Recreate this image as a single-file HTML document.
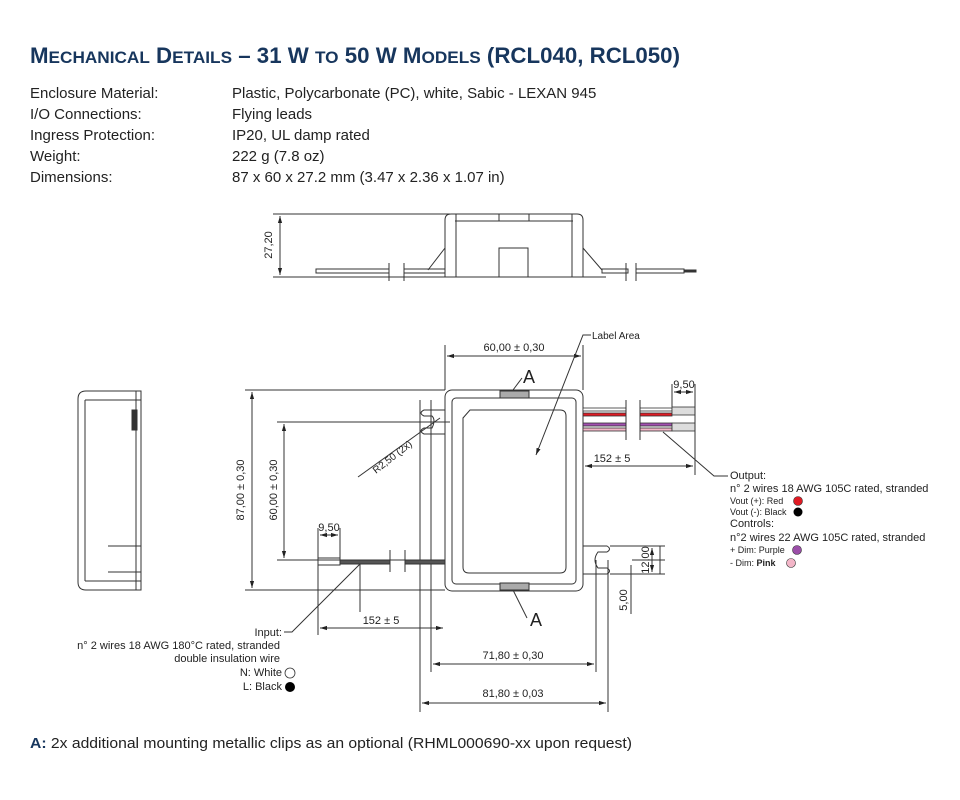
<!DOCTYPE html>
<html><head><meta charset="utf-8"><style>
html,body{margin:0;padding:0;background:#fff;width:960px;height:800px;overflow:hidden}
svg{display:block}
</style></head><body>
<svg width="960" height="800" viewBox="0 0 960 800" xmlns="http://www.w3.org/2000/svg" font-family="Liberation Sans, sans-serif">
<defs>
<marker id="a" viewBox="0 0 10 10" refX="10" refY="5" markerWidth="7" markerHeight="7" orient="auto-start-reverse"><path d="M0,2 L10,5 L0,8 z" fill="#222"/></marker>
</defs>
<text x="30" y="63" fill="#17365d" font-weight="bold" font-size="22" textLength="650" lengthAdjust="spacingAndGlyphs">M<tspan font-size="17">ECHANICAL</tspan> D<tspan font-size="17">ETAILS</tspan> – 31 W <tspan font-size="17">TO</tspan> 50 W M<tspan font-size="17">ODELS</tspan> (RCL040, RCL050)</text>
<g font-size="15" fill="#222">
<text x="30" y="98">Enclosure Material:</text><text x="232" y="98">Plastic, Polycarbonate (PC), white, Sabic - LEXAN 945</text>
<text x="30" y="119">I/O Connections:</text><text x="232" y="119">Flying leads</text>
<text x="30" y="140">Ingress Protection:</text><text x="232" y="140">IP20, UL damp rated</text>
<text x="30" y="161">Weight:</text><text x="232" y="161">222 g (7.8 oz)</text>
<text x="30" y="182">Dimensions:</text><text x="232" y="182">87 x 60 x 27.2 mm (3.47 x 2.36 x 1.07 in)</text>
</g>
<g stroke="#333" stroke-width="1" fill="none">
<line x1="273" y1="214" x2="450" y2="214"/>
<line x1="273" y1="277" x2="606" y2="277"/>
<line x1="280" y1="216" x2="280" y2="275" marker-start="url(#a)" marker-end="url(#a)"/>
<path d="M445,277 V220 Q445,214 451,214 H577 Q583,214 583,220 V277"/>
<line x1="455" y1="221" x2="573" y2="221"/>
<line x1="456" y1="214" x2="456" y2="277"/><line x1="572" y1="214" x2="572" y2="277"/>
<rect x="499" y="214" width="30" height="7"/>
<rect x="499" y="248" width="29" height="29"/>
<line x1="445" y1="248" x2="428" y2="270"/><line x1="583" y1="248" x2="602" y2="270"/>
<rect x="316" y="269" width="73" height="4"/><rect x="404" y="269" width="41" height="4"/>
<rect x="602" y="269" width="26" height="4"/><rect x="636" y="269" width="48" height="4"/><rect x="684" y="270" width="12" height="2" fill="#333"/>
<line x1="389" y1="263" x2="389" y2="281"/><line x1="404" y1="263" x2="404" y2="281"/>
<line x1="626" y1="263" x2="626" y2="281"/><line x1="636" y1="263" x2="636" y2="281"/>
<path d="M141,391 H86 Q78,391 78,399 V582 Q78,590 86,590 H141 Z"/>
<line x1="85" y1="400" x2="141" y2="400"/><line x1="85" y1="581" x2="141" y2="581"/>
<line x1="85" y1="400" x2="85" y2="581"/><line x1="136" y1="391" x2="136" y2="590"/>
<rect x="132" y="410" width="5" height="20" fill="#333"/>
<line x1="108" y1="546" x2="141" y2="546"/><line x1="108" y1="572" x2="141" y2="572"/><rect x="136" y="546" width="5" height="26"/>
<rect x="445" y="390" width="138" height="201" rx="7"/>
<rect x="452" y="398" width="124" height="186" rx="4"/>
<path d="M470,410 H560 Q566,410 566,416 V567 Q566,573 560,573 H469 Q463,573 463,567 V418 Z"/>
<rect x="500" y="391" width="29" height="7" fill="#aaa"/>
<rect x="500" y="583" width="29" height="7" fill="#aaa"/>
<path d="M445,410 H424 Q418,413 424,416 H432 Q436,420 432,428 H424 Q418,431 424,434 H445"/>
<path d="M583,546 H607 Q612,549 607,552 H598 Q592,560 598,568 H607 Q612,571 607,574 H583"/>
<line x1="245" y1="390" x2="445" y2="390"/><line x1="245" y1="590" x2="445" y2="590"/>
<line x1="252" y1="392" x2="252" y2="588" marker-start="url(#a)" marker-end="url(#a)"/>
<line x1="277" y1="422" x2="450" y2="422"/><line x1="277" y1="560" x2="445" y2="560"/>
<line x1="284" y1="424" x2="284" y2="558" marker-start="url(#a)" marker-end="url(#a)"/>
<line x1="445" y1="345" x2="445" y2="390"/><line x1="583" y1="345" x2="583" y2="390"/>
<line x1="447" y1="356" x2="581" y2="356" marker-start="url(#a)" marker-end="url(#a)"/>
<line x1="358" y1="477" x2="440" y2="418"/>
</g>
<!-- right wires -->
<g stroke="#333" stroke-width="0.8">
<rect x="583" y="408" width="43" height="3" fill="#fff"/><rect x="640" y="408" width="32" height="3" fill="#fff"/>
<rect x="583" y="413" width="43" height="3" fill="#e01b24"/><rect x="640" y="413" width="32" height="3" fill="#e01b24"/>
<rect x="583" y="423" width="43" height="3" fill="#a24fb0"/><rect x="640" y="423" width="32" height="3" fill="#a24fb0"/>
<rect x="583" y="428" width="43" height="3" fill="#f3b6c8"/><rect x="640" y="428" width="32" height="3" fill="#f3b6c8"/>
<rect x="672" y="407" width="23" height="8" fill="#ddd"/><rect x="672" y="423" width="23" height="8" fill="#ddd"/>
</g>
<g stroke="#333" stroke-width="1" fill="none">
<line x1="626" y1="400" x2="626" y2="440"/><line x1="640" y1="400" x2="640" y2="440"/>
<line x1="672" y1="384" x2="672" y2="407"/><line x1="695" y1="384" x2="695" y2="475"/>
<line x1="674" y1="392" x2="693" y2="392" marker-start="url(#a)" marker-end="url(#a)"/>
<line x1="585" y1="466" x2="693" y2="466" marker-start="url(#a)" marker-end="url(#a)"/>
<polyline points="663,432 714,476 728,476"/>
<polyline points="536,455 583,335 591,335" marker-start="url(#a)"/>
<line x1="610" y1="546" x2="665" y2="546"/><line x1="610" y1="574" x2="665" y2="574"/>
<line x1="632" y1="560" x2="665" y2="560"/>
<line x1="660" y1="546" x2="660" y2="574"/>
<line x1="652" y1="548" x2="652" y2="572" marker-start="url(#a)" marker-end="url(#a)"/>
<line x1="631" y1="565" x2="631" y2="614"/>
<line x1="596" y1="560" x2="596" y2="672"/><line x1="608" y1="560" x2="608" y2="712"/>
<line x1="431" y1="400" x2="431" y2="672"/><line x1="420" y1="400" x2="420" y2="712"/>
<line x1="433" y1="664" x2="594" y2="664" marker-start="url(#a)" marker-end="url(#a)"/>
<line x1="422" y1="703" x2="606" y2="703" marker-start="url(#a)" marker-end="url(#a)"/>
<line x1="513" y1="590" x2="527" y2="618"/><line x1="513" y1="390" x2="522" y2="378"/>
<rect x="340" y="560" width="50" height="4" fill="#555"/><rect x="405" y="560" width="40" height="4" fill="#555"/>
<rect x="318" y="558" width="22" height="7"/>
<line x1="390" y1="550" x2="390" y2="572"/><line x1="405" y1="550" x2="405" y2="572"/>
<line x1="318" y1="528" x2="318" y2="635"/><line x1="340" y1="528" x2="340" y2="558"/>
<line x1="320" y1="535" x2="338" y2="535" marker-start="url(#a)" marker-end="url(#a)"/>
<line x1="320" y1="628" x2="443" y2="628" marker-start="url(#a)" marker-end="url(#a)"/>
<line x1="360" y1="564" x2="360" y2="612"/>
<polyline points="360,564 292,632 284,632"/>
</g>
<g font-size="11" fill="#222">
<text x="272" y="245" transform="rotate(-90 272 245)" text-anchor="middle">27,20</text>
<text x="244" y="490" transform="rotate(-90 244 490)" text-anchor="middle">87,00 ± 0,30</text>
<text x="277" y="490" transform="rotate(-90 277 490)" text-anchor="middle">60,00 ± 0,30</text>
<text x="376" y="474" transform="rotate(-38 376 474)" font-size="10">R2,50 (2x)</text>
<text x="514" y="351" text-anchor="middle">60,00 ± 0,30</text>
<text x="684" y="388" text-anchor="middle">9,50</text>
<text x="612" y="462" text-anchor="middle">152 ± 5</text>
<text x="329" y="531" text-anchor="middle">9,50</text>
<text x="381" y="624" text-anchor="middle">152 ± 5</text>
<text x="513" y="659" text-anchor="middle">71,80 ± 0,30</text>
<text x="513" y="697" text-anchor="middle">81,80 ± 0,03</text>
<text x="649" y="560" transform="rotate(-90 649 560)" text-anchor="middle">12,00</text>
<text x="627" y="600" transform="rotate(-90 627 600)" text-anchor="middle">5,00</text>
<text x="592" y="339" font-size="10">Label Area</text>
<text x="529" y="383" font-size="18" text-anchor="middle">A</text>
<text x="536" y="626" font-size="18" text-anchor="middle">A</text>
<text x="730" y="479">Output:</text>
<text x="730" y="492">n° 2 wires 18 AWG 105C rated, stranded</text>
<text x="730" y="504" font-size="9">Vout (+): Red</text>
<text x="730" y="515" font-size="9">Vout (-): Black</text>
<text x="730" y="527">Controls:</text>
<text x="730" y="541">n°2 wires 22 AWG 105C rated, stranded</text>
<text x="730" y="553" font-size="9">+ Dim: Purple</text>
<text x="730" y="566" font-size="9">- Dim: <tspan font-weight="bold">Pink</tspan></text>
<text x="282" y="636" text-anchor="end">Input:</text>
<text x="280" y="649" text-anchor="end">n° 2 wires 18 AWG 180°C rated, stranded</text>
<text x="280" y="662" text-anchor="end">double insulation wire</text>
<text x="282" y="676" text-anchor="end">N: White</text>
<text x="282" y="690" text-anchor="end">L: Black</text>
</g>
<circle cx="798" cy="501" r="4.5" fill="#e01b24" stroke="#333" stroke-width="0.6"/>
<circle cx="798" cy="512" r="4.5" fill="#000"/>
<circle cx="797" cy="550" r="4.5" fill="#9b4ea8" stroke="#333" stroke-width="0.6"/>
<circle cx="791" cy="563" r="4.5" fill="#f3b6c8" stroke="#333" stroke-width="0.6"/>
<circle cx="290" cy="673" r="5" fill="#fff" stroke="#333" stroke-width="0.8"/>
<circle cx="290" cy="687" r="5" fill="#000"/>
<text x="30" y="748" font-size="15" fill="#222" textLength="602" lengthAdjust="spacingAndGlyphs"><tspan fill="#17365d" font-weight="bold">A:</tspan> 2x additional mounting metallic clips as an optional (RHML000690-xx upon request)</text>
</svg>
</body></html>
